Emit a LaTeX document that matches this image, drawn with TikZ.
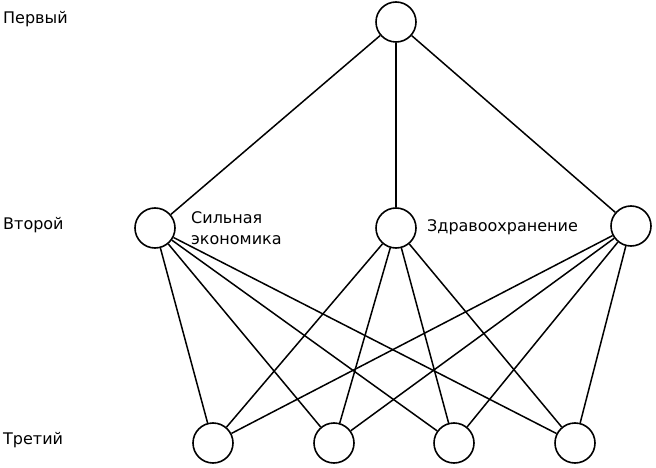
\documentclass[tikz,border=0pt]{standalone}
\usepackage{fontspec}
\setmainfont{DejaVu Sans}
\usetikzlibrary{positioning}

\begin{document}
\begin{tikzpicture}[x=1pt, y=-1pt,
    vertex/.style={draw, circle, line width=1.6pt, minimum size=40pt, inner sep=0pt, fill=white},
    edge/.style={line width=1.5pt},
    level/.style={font=\fontsize{16}{18}\selectfont, anchor=west, inner sep=0pt},
    crit/.style={font=\fontsize{16}{21}\selectfont, anchor=west, inner sep=0pt, align=left}]
    \useasboundingbox (0,0) rectangle (656,468);

    % Level labels
    \node[level] (lfirst) at (3,19) {Первый};
    \node[level] (lsecond) at (3,225) {Второй};
    \node[level] (lthird) at (3,440) {Третий};

    % Top
    \node[vertex] (goal) at (396,22) {};

    % Criteria
    \node[vertex] (c1) at (155,228) {};
    \node[vertex] (c2) at (396,228) {};
    \node[vertex] (c3) at (631,226) {};
    \node[crit] (t1) at (191,228) {Сильная\\экономика};
    \node[crit] (t2) at (427,227) {Здравоохранение};

    % Alternatives
    \node[vertex] (a1) at (213,443) {};
    \node[vertex] (a2) at (334,443) {};
    \node[vertex] (a3) at (454,443) {};
    \node[vertex] (a4) at (575,443) {};

    % Connections
    \draw[edge] (goal) -- (c1);
    \draw[line width=2.5pt] (goal) -- (c2);
    \draw[edge] (goal) -- (c3);
    \foreach \c in {c1,c2,c3}
      \foreach \a in {a1,a2,a3,a4}
        \draw[edge] (\c) -- (\a);
\end{tikzpicture}
\end{document}
